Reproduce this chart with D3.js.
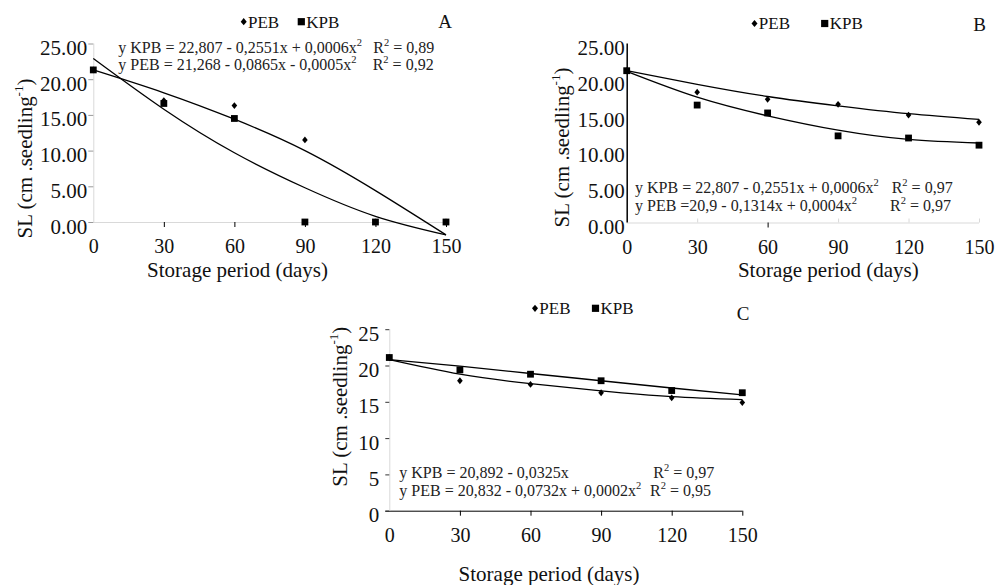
<!DOCTYPE html>
<html>
<head>
<meta charset="utf-8">
<script src="https://cdn.jsdelivr.net/npm/d3@7"></script>
<style>
  html, body { margin: 0; padding: 0; background: #fff; }
  svg { display: block; font-family: "Liberation Serif", "Times New Roman", serif; }
</style>
</head>
<body>
<svg id="chart" width="999" height="585"></svg>
<script>
// ---------- DATA ----------
const days = [0, 30, 60, 90, 120, 150];
const xTickLabels = ["0", "30", "60", "90", "120", "150"];
const yTicksAB = [0, 5, 10, 15, 20, 25];
const yTicksC = [0, 5, 10, 15, 20, 25];
const seriesNames = ["PEB", "KPB"];

// Panel A
const pebA = [21.3, 17.0, 16.3, 11.5, 0, 0];
const kpbA = [21.3, 16.6, 14.5, 0, 0, 0];
const trendKpbA = [22.9, 15.8, 9.7, 4.8, 0.8, -1.8];
const trendPebA = [21.3, 18.1, 14.4, 10.0, 4.4, -1.8];
const eqA = ["y KPB = 22,807 - 0,2551x + 0,0006x", "y PEB = 21,268 - 0,0865x - 0,0005x"];
const r2A = ["0,89", "0,92"];

// Panel B
const pebB = [21.2, 18.2, 17.2, 16.5, 15.0, 14.0];
const kpbB = [21.2, 16.4, 15.3, 12.1, 11.8, 10.8];
const trendPebB = [21.2, 19.3, 17.6, 16.3, 15.2, 14.4];
const trendKpbB = [21.1, 17.5, 14.9, 12.9, 11.6, 11.1];
const eqB = ["y KPB = 22,807 - 0,2551x + 0,0006x", "y PEB =20,9 - 0,1314x + 0,0004x"];
const r2B = ["0,97", "0,97"];

// Panel C
const pebC = [21.1, 17.9, 17.4, 16.25, 15.55, 14.9];
const kpbC = [21.1, 19.4, 18.8, 17.9, 16.55, 16.25];
const trendKpbC = [20.8, 19.9, 18.9, 17.9, 16.9, 15.95];
const trendPebC = [20.8, 18.8, 17.5, 16.5, 15.7, 15.3];
const eqC = ["y KPB = 20,892 - 0,0325x", "y PEB = 20,832 - 0,0732x + 0,0002x"];
const eqCsup = [false, true];
const r2C = ["0,97", "0,95"];

const panelLetters = ["A", "B", "C"];
const xTitle = "Storage period (days)";

// ---------- DRAW ----------
const svg = d3.select("#chart");
const FONT = "'Liberation Serif', 'Times New Roman', serif";

function drawPanel(cfg, d) {
  const g = svg.append("g");
  const x = d3.scaleLinear().domain([0, 150]).range([cfg.x0, cfg.x1]);
  const y = d3.scaleLinear().domain([0, 25]).range([cfg.y0, cfg.yTop]);

  // x axis
  const xa = g.append("g").attr("transform", `translate(0,${cfg.y0})`)
    .call(d3.axisBottom(x).tickValues(days).tickFormat((v, i) => xTickLabels[i]).tickSize(5).tickSizeOuter(0));
  xa.select(".domain").attr("stroke", cfg.xAxisColor).attr("stroke-width", 1)
    .attr("d", `M${cfg.x0 - (cfg.xAxisExt || 0)},0.5H${cfg.x1}`);
  xa.selectAll(".tick line").attr("stroke", cfg.xTickColor).attr("y1", cfg.xTickUp ? -4 : 0).attr("y2", cfg.xTickUp ? 0 : 5);
  if (cfg.specialTick !== undefined) {
    xa.selectAll(".tick").filter(v => v === cfg.specialTick).select("line")
      .attr("stroke", "#000").attr("y1", 0).attr("y2", 5);
  }
  xa.selectAll(".tick").filter(v => v === 0).select("line").remove();
  xa.selectAll(".tick text").attr("font-family", FONT).attr("font-size", 20).attr("fill", "#111")
    .attr("y", 31).attr("dy", 0);

  // y axis
  const ya = g.append("g").attr("transform", `translate(${cfg.x0},0)`)
    .call(d3.axisLeft(y).tickValues(cfg.yTicks).tickFormat(cfg.yFormat).tickSize(cfg.yTickLen).tickSizeOuter(0));
  ya.select(".domain").attr("stroke", cfg.yAxisColor).attr("stroke-width", cfg.yAxisWidth)
    .attr("d", `M0.5,${cfg.y0}V${cfg.yTop}`);
  ya.selectAll(".tick line").attr("stroke", cfg.yTickColor);
  ya.selectAll(".tick text").attr("font-family", FONT).attr("font-size", 21).attr("fill", "#111")
    .attr("x", -cfg.yLabelGap).attr("dy", 11).attr("y", 0);

  // trend lines
  const line = d3.line().x((v, i) => x(days[i])).y(v => y(v)).curve(d3.curveNatural);
  [d.trendPeb, d.trendKpb].forEach(t => {
    g.append("path").attr("d", line(t)).attr("fill", "none").attr("stroke", "#000").attr("stroke-width", 1.3);
  });

  // PEB diamonds (drawn first, squares on top)
  g.selectAll(".dia").data(d.peb).join("path")
    .attr("d", (v, i) => {
      const cx = x(days[i]), cy = y(v);
      return `M${cx},${cy - 3.4}L${cx + 2.8},${cy}L${cx},${cy + 3.4}L${cx - 2.8},${cy}Z`;
    })
    .attr("fill", "#000");
  // KPB squares
  g.selectAll(".sq").data(d.kpb).join("rect")
    .attr("x", (v, i) => x(days[i]) - 3.4).attr("y", v => y(v) - 3.4)
    .attr("width", 6.8).attr("height", 6.8).attr("fill", "#000");

  // legend
  const lg = cfg.legend;
  g.append("path").attr("d", `M${lg.dx},${lg.y - 3.6}L${lg.dx + 3},${lg.y}L${lg.dx},${lg.y + 3.6}L${lg.dx - 3},${lg.y}Z`).attr("fill", "#000");
  g.append("text").attr("x", lg.dx + 4.3).attr("y", lg.base).text(seriesNames[0])
    .attr("font-family", FONT).attr("font-size", 17).attr("fill", "#111");
  g.append("rect").attr("x", lg.sx - 3.6).attr("y", lg.y - 3.6).attr("width", 7.2).attr("height", 7.2).attr("fill", "#000");
  g.append("text").attr("x", lg.sx + 5).attr("y", lg.base).text(seriesNames[1])
    .attr("font-family", FONT).attr("font-size", 17).attr("fill", "#111");
  g.append("text").attr("x", cfg.letter.x).attr("y", cfg.letter.y).text(cfg.letter.t)
    .attr("font-family", FONT).attr("font-size", 19).attr("fill", "#111");

  // equations
  d.eq.forEach((e, i) => {
    const t = g.append("text").attr("x", cfg.eqX).attr("y", cfg.eqY[i])
      .attr("font-family", FONT).attr("font-size", 16).attr("fill", "#222");
    t.append("tspan").text(e);
    if (d.eqSup[i]) t.append("tspan").attr("font-size", 10.5).attr("dy", -7).text("2");
    const r = g.append("text").attr("x", cfg.r2X[i]).attr("y", cfg.eqY[i])
      .attr("font-family", FONT).attr("font-size", 16).attr("fill", "#222");
    r.append("tspan").text("R");
    r.append("tspan").attr("font-size", 10.5).attr("dy", -7).text("2");
    r.append("tspan").attr("dy", 7).text(" = " + d.r2[i]);
  });

  // x title
  g.append("text").attr("x", cfg.xTitle.x).attr("y", cfg.xTitle.y).attr("text-anchor", "middle")
    .attr("font-family", FONT).attr("font-size", 21).attr("fill", "#111").text(xTitle);

  // y title
  const yt = g.append("text")
    .attr("transform", `translate(${cfg.yTitle.x},${cfg.yTitle.y}) rotate(-90)`)
    .attr("text-anchor", "middle").attr("font-family", FONT).attr("font-size", 21).attr("fill", "#111");
  yt.append("tspan").text("SL (cm .seedling");
  yt.append("tspan").attr("font-size", 13).attr("dy", -9).text("-1");
  yt.append("tspan").attr("dy", 9).text(")");
}

const fmt2 = d3.format(".2f");

drawPanel({
  x0: 93.3, x1: 446, y0: 222, yTop: 43.5,
  xAxisColor: "#d9d9d9", xTickColor: "#000", xTickUp: false,
  yAxisColor: "#d9d9d9", yAxisWidth: 1, yTickColor: "#9a9a9a", yTickLen: 5, yLabelGap: 6,
  yTicks: yTicksAB, yFormat: fmt2,
  legend: { dx: 243.7, sx: 301.3, y: 21.7, base: 27.5 },
  letter: { x: 438.3, y: 27.5, t: panelLetters[0] },
  eqX: 118.3, eqY: [52.5, 69.5], r2X: [373.3, 372.7],
  xTitle: { x: 237.5, y: 277 },
  yTitle: { x: 31.5, y: 158.5 }
}, { peb: pebA, kpb: kpbA, trendPeb: trendPebA, trendKpb: trendKpbA, eq: eqA, eqSup: [true, true], r2: r2A });

drawPanel({
  x0: 626.7, x1: 979, y0: 222.5, yTop: 43.5,
  xAxisColor: "#d9d9d9", xTickColor: "#d9d9d9", xTickUp: true, specialTick: 60,
  yAxisColor: "#000", yAxisWidth: 1.5, yTickColor: "none", yTickLen: 0, yLabelGap: 2,
  yTicks: yTicksAB, yFormat: fmt2,
  legend: { dx: 754.5, sx: 824.7, y: 23.5, base: 29 },
  letter: { x: 973.3, y: 30.5, t: panelLetters[1] },
  eqX: 635, eqY: [193.3, 210.7], r2X: [891.7, 890],
  xTitle: { x: 828.3, y: 277 },
  yTitle: { x: 568.5, y: 147.5 }
}, { peb: pebB, kpb: kpbB, trendPeb: trendPebB, trendKpb: trendKpbB, eq: eqB, eqSup: [true, true], r2: r2B });

drawPanel({
  x0: 389.3, x1: 742.3, y0: 510.7, yTop: 329.2,
  xAxisColor: "#000", xAxisExt: 4, xTickColor: "#000", xTickUp: false,
  yAxisColor: "#d9d9d9", yAxisWidth: 1, yTickColor: "#333", yTickLen: 4, yLabelGap: 10,
  yTicks: yTicksC, yFormat: d3.format("d"),
  legend: { dx: 535, sx: 595.5, y: 308.3, base: 314 },
  letter: { x: 736.7, y: 320, t: panelLetters[2] },
  eqX: 399.3, eqY: [477.5, 496], r2X: [653.3, 650],
  xTitle: { x: 549, y: 581 },
  yTitle: { x: 347, y: 406.7 }
}, { peb: pebC, kpb: kpbC, trendPeb: trendPebC, trendKpb: trendKpbC, eq: eqC, eqSup: eqCsup, r2: r2C });
</script>
</body>
</html>
